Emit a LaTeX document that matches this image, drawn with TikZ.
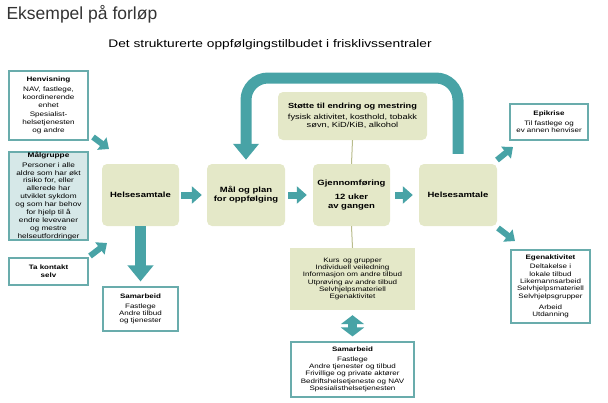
\documentclass[tikz,border=0pt]{standalone}
\usepackage{fontspec}
\setmainfont{Liberation Sans}[FakeStretch=1.25]
\newfontfamily\titlefont{Liberation Sans}
\usetikzlibrary{arrows.meta,calc}
\definecolor{teal1}{RGB}{72,163,166}
\definecolor{bord}{RGB}{105,172,172}
\definecolor{gfill}{RGB}{228,232,200}
\definecolor{mfill}{RGB}{214,232,232}
\definecolor{oline}{RGB}{185,188,140}
\begin{document}
\begin{tikzpicture}[x=1pt,y=-1pt,
  wbox/.style={draw=bord, line width=1.1pt, fill=white, align=center, inner sep=0pt},
  gbox/.style={fill=gfill, rounded corners=5pt, align=center, inner sep=0pt},
  small/.style={font=\fontsize{6.4}{7.3}\selectfont},
  mainf/.style={font=\bfseries\fontsize{7.6}{9}\selectfont},
  mid/.style={draw=teal1, line width=7pt, -{Triangle[length=10pt,width=17pt]}},
  sml/.style={draw=teal1, line width=6pt, -{Triangle[length=9pt,width=15pt]}},
  big/.style={draw=teal1, line width=11pt, -{Triangle[length=16pt,width=25pt]}},
  dbl/.style={draw=teal1, line width=9pt, {Triangle[length=9pt,width=23pt]}-{Triangle[length=9pt,width=23pt]}},
  thin/.style={draw=oline, line width=1pt}
]
\useasboundingbox (0,0) rectangle (608,402);

\node[anchor=west, font=\titlefont\fontsize{17.5}{20}\selectfont, text=black!80] (title) at (3,14) {Eksempel på forløp};
\node[font=\fontsize{11}{13}\selectfont] (sub) at (270,45) {Det strukturerte oppfølgingstilbudet i frisklivssentraler};

% left column
\node[wbox, minimum width=79pt, minimum height=69pt, font=\fontsize{6.5}{8.2}\selectfont] (henv) at (48.5,105.5)
  {\textbf{Henvisning}\\[1.5pt] NAV, fastlege,\\ koordinerende\\ enhet\\ Spesialist-\\ helsetjenesten\\ og andre};
\node[wbox, fill=mfill, minimum width=79pt, minimum height=88pt, font=\fontsize{6.6}{7.9}\selectfont] (malg) at (48.5,196)
  {\textbf{Målgruppe}\\[1.5pt] Personer i alle\\ aldre som har økt\\ risiko for, eller\\ allerede har\\ utviklet sykdom\\ og som har behov\\ for hjelp til å\\ endre levevaner\\ og mestre\\ helseutfordringer};
\node[wbox, minimum width=79pt, minimum height=27pt, font=\bfseries\fontsize{6.4}{7.6}\selectfont] (takon) at (48.5,271.5)
  {Ta kontakt\\ selv};

% main row
\node[gbox, mainf, minimum width=77pt, minimum height=62pt] (hs1) at (140.5,195) {Helsesamtale};
\node[gbox, mainf, minimum width=78pt, minimum height=62pt] (mal) at (246,195) {Mål og plan\\ for oppfølging};
\node[gbox, mainf, minimum width=77pt, minimum height=62pt] (gj) at (351.5,195) {Gjennomføring\\[5pt] 12 uker\\ av gangen};
\node[gbox, mainf, minimum width=78pt, minimum height=62pt] (hs2) at (458,195) {Helsesamtale};

\node[gbox, minimum width=149pt, minimum height=48pt, font=\fontsize{7.4}{8.4}\selectfont] (stotte) at (352.5,116)
  {\textbf{Støtte til endring og mestring}\\[2pt] fysisk aktivitet, kosthold, tobakk\\ søvn, KiD/KiB, alkohol};

\node[gbox, rounded corners=0pt, minimum width=125pt, minimum height=62pt, small] (kurs) at (352.5,279)
  {Kurs\, og grupper\\ Individuell veiledning\\ Informasjon om andre tilbud\\ Utprøving av andre tilbud\\ Selvhjelpsmateriell\\ Egenaktivitet};

\node[wbox, small, minimum width=123pt, minimum height=55pt] (sam2) at (352.5,369.5)
  {\textbf{Samarbeid}\\[2pt] Fastlege\\ Andre tjenester og tilbud\\ Frivillige og private aktører\\ Bedriftshelsetjeneste og NAV\\ Spesialisthelsetjenesten};

\node[wbox, small, minimum width=75pt, minimum height=44pt] (sam1) at (140.5,309)
  {\textbf{Samarbeid}\\[2pt] Fastlege\\ Andre tilbud\\ og tjenester};

% right column
\node[wbox, small, minimum width=78pt, minimum height=36pt] (epik) at (549,122)
  {\textbf{Epikrise}\\[2pt] Til fastlege og\\ ev annen henviser};
\node[wbox, small, minimum width=79pt, minimum height=73pt] (egen) at (550.5,286.5)
  {\textbf{Egenaktivitet}\\[2pt] Deltakelse i\\ lokale tilbud\\ Likemannsarbeid\\ Selvhjelpsmateriell\\ Selvhjelpsgrupper\\[4pt] Arbeid\\ Utdanning};

% connectors
\draw[mid] ([xshift=2pt]hs1.east) -- ([xshift=-5pt]mal.west);
\draw[mid] ([xshift=3pt]mal.east) -- ([xshift=-6pt]gj.west);
\draw[mid] ([xshift=5pt]gj.east) -- ([xshift=-6pt]hs2.west);

\draw[thin] (stotte.south) -- (gj.north);
\draw[thin] (gj.south) -- (kurs.north);

\coordinate (utop) at (0,78);
\draw[big, rounded corners=22pt] ([yshift=10pt]hs2.north) -- (hs2.north |- utop) -- (mal.north |- utop) -- ([yshift=4pt]mal.north);
\draw[big] (hs1.south) -- ([yshift=5pt]sam1.north);
\draw[dbl] ([yshift=-5pt]kurs.south) -- ([yshift=5pt]sam2.north);

\coordinate (d1a) at (93,137); \coordinate (d1b) at (109,149);
\coordinate (d2a) at (90,256); \coordinate (d2b) at (107,243);
\coordinate (d3a) at (497,160); \coordinate (d3b) at (513,147);
\coordinate (d4a) at (498,228); \coordinate (d4b) at (515,241);
\draw[sml] (d1a) -- (d1b);
\draw[sml] (d2a) -- (d2b);
\draw[sml] (d3a) -- (d3b);
\draw[sml] (d4a) -- (d4b);
\end{tikzpicture}
\end{document}
